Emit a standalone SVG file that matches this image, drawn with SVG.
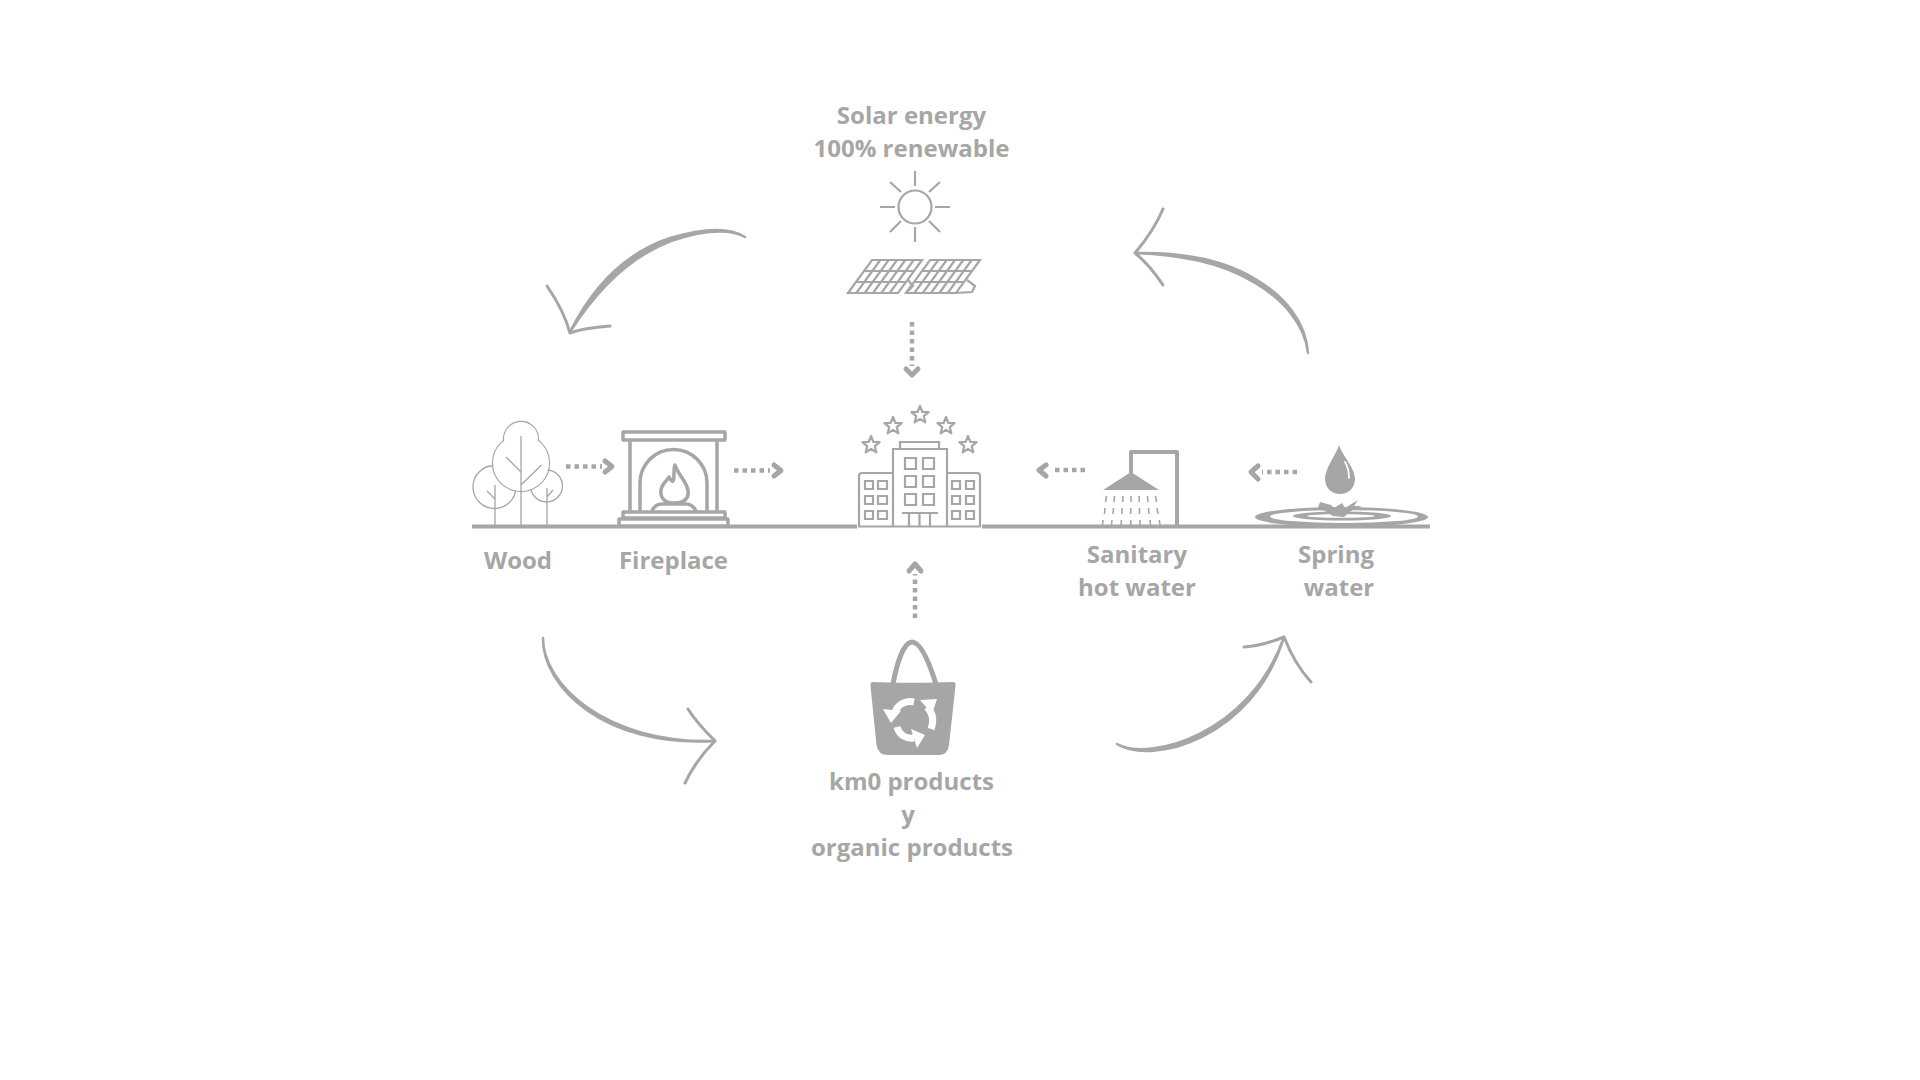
<svg xmlns="http://www.w3.org/2000/svg" xmlns:xlink="http://www.w3.org/1999/xlink" width="1920" height="1080" viewBox="0 0 1920 1080">
<style>
text{font-family:"Open Sans","Noto Sans","Liberation Sans",sans-serif;font-weight:700;font-size:24px;fill:#a6a6a6;text-anchor:middle}
.l{fill:none;stroke:#a6a6a6;stroke-width:3.500;stroke-linecap:butt;stroke-linejoin:round}
.t{fill:none;stroke:#a6a6a6;stroke-width:1.300}
.s{fill:none;stroke:#a6a6a6;stroke-width:2.200}
.f{fill:#a6a6a6}
.w{fill:#fff;stroke:none}
.dot{fill:none;stroke:#a6a6a6;stroke-width:4.500;stroke-dasharray:4.500 4}
.ch{fill:none;stroke:#a6a6a6;stroke-width:5;stroke-linejoin:round;stroke-linecap:round}
.c{fill:none;stroke:#a6a6a6;stroke-width:3;stroke-linecap:round;stroke-linejoin:round}
.c2{fill:#a6a6a6;stroke:#a6a6a6;stroke-width:2.500;stroke-linejoin:round}
.r{fill:none;stroke:#fff;stroke-width:7}
</style>
<defs>
<polygon id="star" class="s" stroke-linejoin="round" points="0,-9 2.400,-3 8.600,-2.800 3.800,1.200 5.300,7.300 0,3.800 -5.300,7.300 -3.800,1.200 -8.600,-2.800 -2.400,-3"/>
<path id="panel" class="s" d="M872 260H922L898 293H848ZM864 271H914M856 282H906M880.300 260L856.300 293M888.700 260L864.700 293M897 260L873 293M905.300 260L881.300 293M913.700 260L889.700 293"/>
</defs>
<rect width="1920" height="1080" fill="#fff"/>
<g id="ground"><path d="M472 526.500H857M982 526.500H1430" fill="none" stroke="#a6a6a6" stroke-width="4"/></g>
<g id="connectors">
<path class="c2" d="M745 237C728 226 700 229 670 238C625 253 592 288 570 332C596 291 629 257 671 241C700 231.500 728 228 745 237Z"/>
<path class="c" d="M547 286C558 302 566 318 570 333C583 328 596 327 610 326"/>
<path class="c2" d="M1308 353C1306 322 1285 297 1257 280C1222 258 1180 252 1135 253C1180 255 1221 262 1255 283C1284 300 1305 325 1308 353Z"/>
<path class="c" d="M1163 209C1156 226 1146 240 1135 253C1145 261 1155 273 1163 285"/>
<path class="c2" d="M543 638C543 684 605 744 715 741C604 748 542 686 543 638Z"/>
<path class="c" d="M688 709C696 722 706 732 715 741C703 753 693 766 685 783"/>
<path class="c2" d="M1117 744C1150 762 1250 734 1284 637C1254 738 1152 766 1117 744Z"/>
<path class="c" d="M1244 647C1258 646 1272 642 1284 637C1291 655 1300 670 1311 682"/>
<path class="dot" d="M912 322V366"/><path class="ch" d="M906 369L912 375L918 369"/>
<path class="dot" d="M915 618V574"/><path class="ch" d="M909 571L915 564L921 571"/>
<path class="dot" d="M566 466.500H602"/><path class="ch" d="M605 461L612 466.500L605 472"/>
<path class="dot" d="M734 470.500H770"/><path class="ch" d="M774 465L781 470.500L774 476"/>
<path class="dot" d="M1085 470H1053"/><path class="ch" d="M1046 465L1039 470L1046 476"/>
<path class="dot" d="M1297 472H1262"/><path class="ch" d="M1258 466L1251 472L1258 479"/>
</g>
<g id="node-solar">
<circle class="s" cx="915" cy="207" r="16.500"/>
<path class="s" d="M915 171V186M915 227V242M880 207H895M935 207H950M890 182L901 192M940 182L929 192M890 232L901 221M940 232L929 221"/>
<use href="#panel" xlink:href="#panel"/>
<use href="#panel" xlink:href="#panel" x="58"/>
<path class="s" d="M908 280L913 286L906 293M967 280L975 286L972 292L955 293"/>
<text x="911.500" y="124">Solar energy</text>
<text x="911.500" y="157">100% renewable</text>
</g>
<g id="node-wood">
<circle class="t" cx="494.500" cy="487" r="21.500"/>
<circle class="t" cx="546.500" cy="486" r="16"/>
<circle class="t" cx="521" cy="439" r="17.500"/>
<circle class="t" cx="521" cy="463" r="28.500"/>
<circle class="w" cx="521" cy="439" r="16.800"/>
<circle class="w" cx="521" cy="463" r="27.800"/>
<path class="t" d="M521 436V526M506 457L521 472M541.500 465L521 485M495 485V526M487 491L495 499M547 488V526M553 490L547 497"/>
<text x="518" y="569">Wood</text>
</g>
<g id="node-fireplace">
<rect x="623" y="432" width="102" height="8" fill="#fff" stroke="#a6a6a6" stroke-width="3.500" stroke-linejoin="round"/>
<path class="l" d="M630 440V512M717 440V512"/>
<path class="l" d="M640 512V483A33.500 33.500 0 0 1 707 483V512"/>
<rect class="l" x="623" y="512" width="102" height="6"/>
<rect x="619" y="519" width="109" height="7" fill="#fff" stroke="#a6a6a6" stroke-width="3.500" stroke-linejoin="round"/>
<path class="l" d="M675 465C678 475 690 485 688 495C686 503 678 503 673 503C665 503 660 498 661 490C662 483 668 480 669 477C671 480 672 482 673 481C675 477 673 470 675 465Z"/>
<path class="l" d="M652 511C654 506 657 504 662 504H686C691 504 694 507 696 511"/>
<text x="673.500" y="569">Fireplace</text>
</g>
<g id="node-hotel">
<use href="#star" xlink:href="#star" x="871" y="445"/>
<use href="#star" xlink:href="#star" x="893" y="426"/>
<use href="#star" xlink:href="#star" x="920" y="415"/>
<use href="#star" xlink:href="#star" x="946" y="426"/>
<use href="#star" xlink:href="#star" x="968" y="445"/>
<path class="s" d="M900 449V442H939V449M893 527V449H947V527M893 473H862Q859 473 859 476V526.500H980V476Q980 473 977 473H947"/>
<path class="s" d="M905 458h11v11h-11zM923 458h11v11h-11zM905 476h11v11h-11zM923 476h11v11h-11zM905 494h11v11h-11zM923 494h11v11h-11z"/>
<path class="s" d="M865 481h8v8h-8zM878 481h9v8h-9zM865 496h8v8h-8zM878 496h9v8h-9zM865 511h8v8h-8zM878 511h9v8h-9zM952 481h8v8h-8zM966 481h8v8h-8zM952 496h8v8h-8zM966 496h8v8h-8zM952 511h8v8h-8zM966 511h8v8h-8z"/>
<path class="s" d="M902 513H938M909 513V526M919.500 513V526M930 513V526"/>
</g>
<g id="node-shower">
<path fill="none" stroke="#a6a6a6" stroke-width="4" stroke-linejoin="round" d="M1131 473V452H1177V526"/>
<polygon class="f" points="1131,472 1159,490 1103,490"/>
<path fill="none" stroke="#a6a6a6" stroke-width="1.600" d="M1106.500 496L1105.500 502M1114.500 496L1114 502M1122.800 496V502M1131 496V502M1139.200 496V502M1147.500 496L1148 502M1155.500 496L1156.500 502M1105 508L1104.500 514M1113.500 508L1113 514M1122 508V514M1130.700 508V514M1139.500 508V514M1148.500 508L1149 514M1157 508L1158 514M1103 520L1102.500 525M1112 520L1111.500 525M1121.300 520V525M1130.700 520V525M1140 520V525M1150 520L1150.500 525M1159.300 520L1160 525"/>
<text x="1137" y="563">Sanitary</text>
<text x="1137" y="596">hot water</text>
</g>
<g id="node-spring">
<ellipse class="f" cx="1341.500" cy="517" rx="86.500" ry="10"/>
<ellipse class="w" cx="1344" cy="516.500" rx="74" ry="6.500"/>
<ellipse class="f" cx="1342" cy="516" rx="49" ry="4.500"/>
<ellipse class="w" cx="1341" cy="516" rx="34" ry="1.800"/>
<path class="f" d="M1339 445C1342 455 1355 468 1355 479C1355 488 1348 494 1340 494C1332 494 1325 488 1325 479C1325 468 1336 455 1339 445Z"/>
<path d="M1345 462C1348 467 1349 472 1349 478" fill="none" stroke="#fff" stroke-width="1.800" stroke-linecap="round"/>
<polygon class="f" points="1320,502 1331,505 1334,508 1342,503 1345,508 1358,500 1354,506 1362,506 1349,512 1344,517 1333,516 1325,511 1318,508"/>
<text x="1336" y="563">Spring</text>
<text x="1339" y="596">water</text>
</g>
<g id="node-bag">
<path fill="none" stroke="#a6a6a6" stroke-width="5" d="M893 684C897 662 904 642 912 642C921 642 930 665 936 684"/>
<path class="f" d="M873 682C895 683 930 683 953 682Q956 682 955.500 686L949 745Q948 755 938 755L888 755Q878 755 876.500 745L870.500 686Q870 682 873 682Z"/>
<path class="r" d="M914 702C905 700 897 705 895 713"/>
<polygon class="w" points="883,709 901,711 891,723"/>
<path class="r" d="M927 707C933 713 934 721 931 729"/>
<polygon class="w" points="920,700 937,699 932,714"/>
<path class="r" d="M897 727C899 735 906 739 914 738"/>
<polygon class="w" points="911,729 925,735 917,748"/>
<text x="911.500" y="790">km0 products</text>
<text x="908" y="823">y</text>
<text x="912" y="856">organic products</text>
</g>
</svg>
